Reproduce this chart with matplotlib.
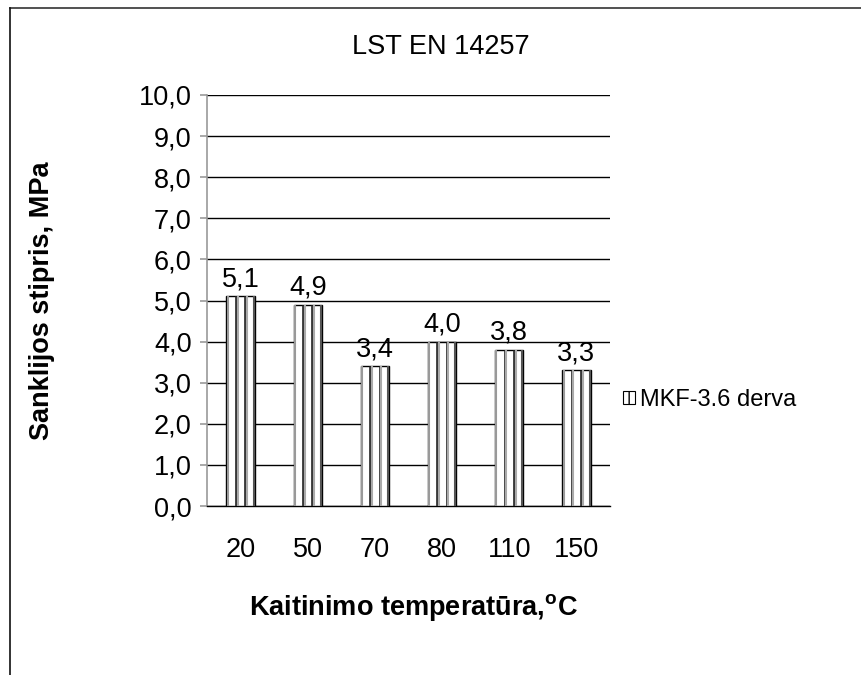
import matplotlib
matplotlib.use("Agg")
import matplotlib.pyplot as plt
from matplotlib.patches import Patch
from matplotlib.lines import Line2D
import numpy as np

plt.rcParams['font.family'] = ['Liberation Sans', 'DejaVu Sans']

categories = ["20", "50", "70", "80", "110", "150"]
values = [5.1, 4.9, 3.4, 4.0, 3.8, 3.3]
value_labels = ["5,1", "4,9", "3,4", "4,0", "3,8", "3,3"]
y_ticks = [0, 1, 2, 3, 4, 5, 6, 7, 8, 9, 10]
y_tick_labels = ["0,0", "1,0", "2,0", "3,0", "4,0", "5,0", "6,0", "7,0", "8,0", "9,0", "10,0"]
series_name = "MKF-3.6 derva"
title = "LST EN 14257"
x_title = "Kaitinimo temperatūra,$\\mathregular{^o}$C"
y_title = "Sanklijos stipris, MPa"

W, H = 861, 675
fig = plt.figure(figsize=(W / 100, H / 100), dpi=100)
ax = fig.add_axes([207 / W, 1 - 506 / H, 403 / W, 411 / H])

fs = 19.5
fs_axis = 19.5
x = np.arange(len(categories))
bw = 0.42
bars = ax.bar(x, values, width=bw, color="white", edgecolor="black", linewidth=1.0, zorder=3)

# vertical stripe pattern inside each bar
for xi, v in zip(x, values):
    for off in (-bw / 6, bw / 6):
        ax.plot([xi + off, xi + off], [0, v], color="#333333", lw=2.0, zorder=4, solid_capstyle="butt")
        ax.plot([xi + off + 0.025, xi + off + 0.025], [0, v], color="#aaaaaa", lw=1.5, zorder=4, solid_capstyle="butt")
    ax.plot([xi - bw / 2 + 0.02, xi - bw / 2 + 0.02], [0, v], color="#999999", lw=1.5, zorder=4, solid_capstyle="butt")
    ax.plot([xi + bw / 2 - 0.015, xi + bw / 2 - 0.015], [0, v], color="#555555", lw=1.5, zorder=4, solid_capstyle="butt")

for xi, v, lab in zip(x, values, value_labels):
    ax.annotate(lab, (xi, v), xytext=(0, 3), textcoords="offset points",
                ha="center", va="bottom", fontsize=fs, zorder=5)

ax.set_xlim(-0.5, len(categories) - 0.5)
ax.set_ylim(0, 10)
ax.set_yticks(y_ticks)
ax.set_yticklabels(y_tick_labels, fontsize=fs)
ax.set_xticks(x)
ax.set_xticklabels(categories, fontsize=fs)
ax.tick_params(axis="x", length=0, pad=22)
ax.tick_params(axis="y", length=5, color="#999999", width=1.2, pad=6)
ax.yaxis.grid(True, color="black", linewidth=1.0, zorder=0)
ax.set_axisbelow(True)
for s in ("top", "right"):
    ax.spines[s].set_visible(False)
ax.spines["left"].set_color("#999999")
ax.spines["left"].set_linewidth(1.2)
ax.spines["bottom"].set_color("black")
ax.spines["bottom"].set_linewidth(1.0)

ax.set_xlabel(x_title, fontsize=fs_axis, fontweight="bold")
ax.set_ylabel(y_title, fontsize=fs_axis, fontweight="bold")
ax.xaxis.set_label_coords(0.511, -0.21)
ax.yaxis.set_label_coords(-0.378, 0.5)

fig.text(441 / W, 1 - 47 / H, title, ha="center", va="center", fontsize=fs)

handle = Patch(facecolor="white", edgecolor="black", hatch="||", linewidth=0.8)
fig.legend(handles=[handle], labels=[series_name], loc="center left",
           bbox_to_anchor=(602 / W, 1 - 400 / H), frameon=False,
           handlelength=0.5, handleheight=0.5, handletextpad=0.2, fontsize=17)

# outer chart frame
fig.add_artist(Line2D([10 / W, 1.0], [1 - 8 / H, 1 - 8 / H], transform=fig.transFigure, color="#333333", lw=1.2))
fig.add_artist(Line2D([10 / W, 10 / W], [1 - 8 / H, 0.0], transform=fig.transFigure, color="#111111", lw=1.2))

fig.savefig("out.png", dpi=100)
